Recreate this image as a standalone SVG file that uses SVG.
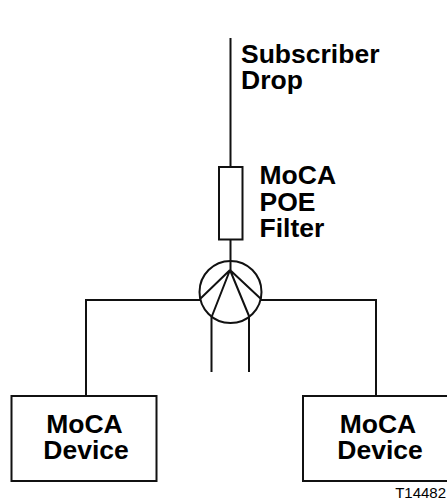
<svg xmlns="http://www.w3.org/2000/svg" width="447" height="501" viewBox="0 0 447 501">
<style>
.l{fill:none;stroke:#111;stroke-width:2}
.t{font-family:"Liberation Sans",Arial,sans-serif;font-weight:bold;font-size:26.500px;fill:#000}
.m{text-anchor:middle}
</style>
<rect width="447" height="501" fill="#fff"/>
<g id="connectors">
<path class="l" d="M230.500 38V167M230.500 240V270M200 300H86V396M261 300H376V396M211.500 316V372M249 316V372"/>
<path class="l" d="M230 270L200 299M230 270L212 316M230 270L249 316M230 270L261 299"/>
</g>
<g id="splitter"><circle class="l" cx="230.500" cy="292" r="31"/></g>
<g id="filter"><rect class="l" x="219" y="167" width="23.500" height="72.500"/></g>
<g id="device-left"><rect class="l" x="11.500" y="396" width="145" height="85"/><text class="t m" x="84.500" y="433">MoCA</text><text class="t m" x="86" y="459">Device</text></g>
<g id="device-right"><rect class="l" x="303" y="396" width="160" height="85"/><text class="t m" x="378" y="433">MoCA</text><text class="t m" x="380" y="459">Device</text></g>
<g id="label-drop"><text class="t" x="241" y="63">Subscriber</text><text class="t" x="241" y="89">Drop</text></g>
<g id="label-filter"><text class="t" x="259.500" y="184">MoCA</text><text class="t" x="259.500" y="211">POE</text><text class="t" x="259.500" y="237">Filter</text></g>
<text x="446" y="497.500" text-anchor="end" font-family="Liberation Sans,Arial,sans-serif" font-size="15">T14482</text>
</svg>
